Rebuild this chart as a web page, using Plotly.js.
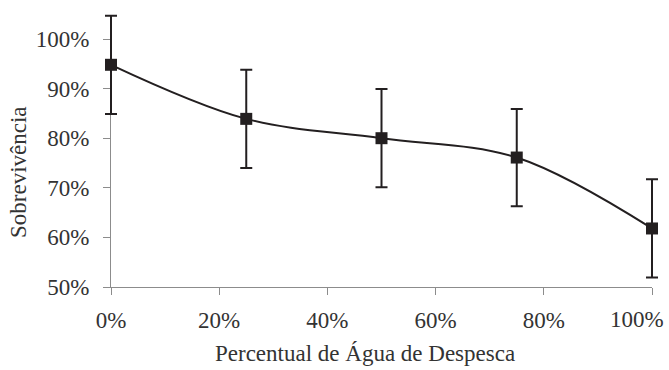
<!DOCTYPE html>
<html>
<head>
<meta charset="utf-8">
<script src="https://cdn.plot.ly/plotly-3.0.1.min.js"></script>
<style>html,body{margin:0;padding:0;background:#fff;}#chart{width:669px;height:370px;}</style>
</head>
<body>
<div id="chart"></div>
<script>
const percentAgua = [0, 0.25, 0.5, 0.75, 1.0];
const sobrevivencia = [0.948, 0.839, 0.800, 0.761, 0.618];
const erro = [0.099, 0.099, 0.099, 0.098, 0.099];
const xTickVals = [0, 0.2, 0.4, 0.6, 0.8, 1.0];
const xTickText = ['0%', '20%', '40%', '60%', '80%', '100%'];
const yTickVals = [0.5, 0.6, 0.7, 0.8, 0.9, 1.0];
const yTickText = ['50%', '60%', '70%', '80%', '90%', '100%'];
const xTitle = 'Percentual de Água de Despesca';
const yTitle = 'Sobrevivência';

const font = {family: 'Liberation Serif, Times New Roman, serif', size: 23, color: '#333333'};

// pixel geometry: plot area (margins) 91..662 x 9..287; visible axes 111..652 x 39..287
const L = 91, R = 662, T = 9, B = 287;
const AX0 = 111, AX1 = 652, AY1 = 39;
const xMin = 0, xMax = 1, yMin = 0.5, yMax = 1.0;
const sx = (xMax - xMin) / (AX1 - AX0);
const sy = (yMax - yMin) / (B - AY1);
const px = v => (v - L) / (R - L);
const py = v => (B - v) / (B - T);

// invisible trace so the visible axes (xy subplot) get drawn
const axesTrace = {
  x: [xMin, xMax], y: [yMin, yMax],
  xaxis: 'x', yaxis: 'y',
  type: 'scatter', mode: 'markers',
  marker: {opacity: 0, size: 1},
  hoverinfo: 'none'
};

const trace = {
  x: percentAgua,
  y: sobrevivencia,
  xaxis: 'x2', yaxis: 'y2',
  type: 'scatter',
  mode: 'lines+markers',
  line: {shape: 'spline', smoothing: 1, color: '#231f20', width: 2},
  marker: {symbol: 'square', size: 12, color: '#231f20'},
  error_y: {type: 'data', array: erro, visible: true, color: '#231f20', thickness: 2, width: 6},
  cliponaxis: false,
  hoverinfo: 'none'
};

const axisCommon = {
  showgrid: false, zeroline: false, showline: true, linecolor: '#8c8c8c', linewidth: 1,
  ticks: 'outside', ticklen: 7, tickcolor: '#8c8c8c', tickwidth: 1,
  tickfont: font, fixedrange: true
};

// last x tick label is drawn as an annotation pulled inside the page, as in the reference
const xTickTextAxis = xTickText.map((t, i) => i === xTickText.length - 1 ? '' : t);

const layout = {
  width: 669, height: 370,
  margin: {l: L, r: 669 - R, t: T, b: 370 - B},
  paper_bgcolor: '#fff', plot_bgcolor: 'rgba(0,0,0,0)',
  showlegend: false,
  font: font,
  xaxis: Object.assign({}, axisCommon, {
    domain: [px(AX0), px(AX1)],
    anchor: 'y',
    range: [xMin, xMax], tickvals: xTickVals, ticktext: xTickTextAxis,
    ticklabelstandoff: 5
  }),
  yaxis: Object.assign({}, axisCommon, {
    domain: [0, py(AY1)],
    anchor: 'x',
    range: [yMin, yMax], tickvals: yTickVals, ticktext: yTickText,
    ticklabelstandoff: 9
  }),
  xaxis2: {
    domain: [0, 1], anchor: 'y2', visible: false, fixedrange: true,
    range: [xMin - (AX0 - L) * sx, xMax + (R - AX1) * sx]
  },
  yaxis2: {
    domain: [0, 1], anchor: 'x2', visible: false, fixedrange: true,
    range: [yMin, yMax + (AY1 - T) * sy]
  },
  annotations: [
    {text: xTickText[xTickText.length - 1], xref: 'x', yref: 'y',
     x: xTickVals[xTickVals.length - 1], y: yMin, xanchor: 'right', yanchor: 'top',
     xshift: 14, yshift: -18, showarrow: false, font: font},
    {text: xTitle, xref: 'paper', yref: 'paper', x: px(365), y: py(353),
     xanchor: 'center', yanchor: 'middle', showarrow: false, font: font},
    {text: yTitle, xref: 'paper', yref: 'paper', x: px(18), y: py(172),
     xanchor: 'center', yanchor: 'middle', textangle: -90, showarrow: false, font: font}
  ]
};

Plotly.newPlot('chart', [axesTrace, trace], layout, {displayModeBar: false, staticPlot: true});
</script>
</body>
</html>
